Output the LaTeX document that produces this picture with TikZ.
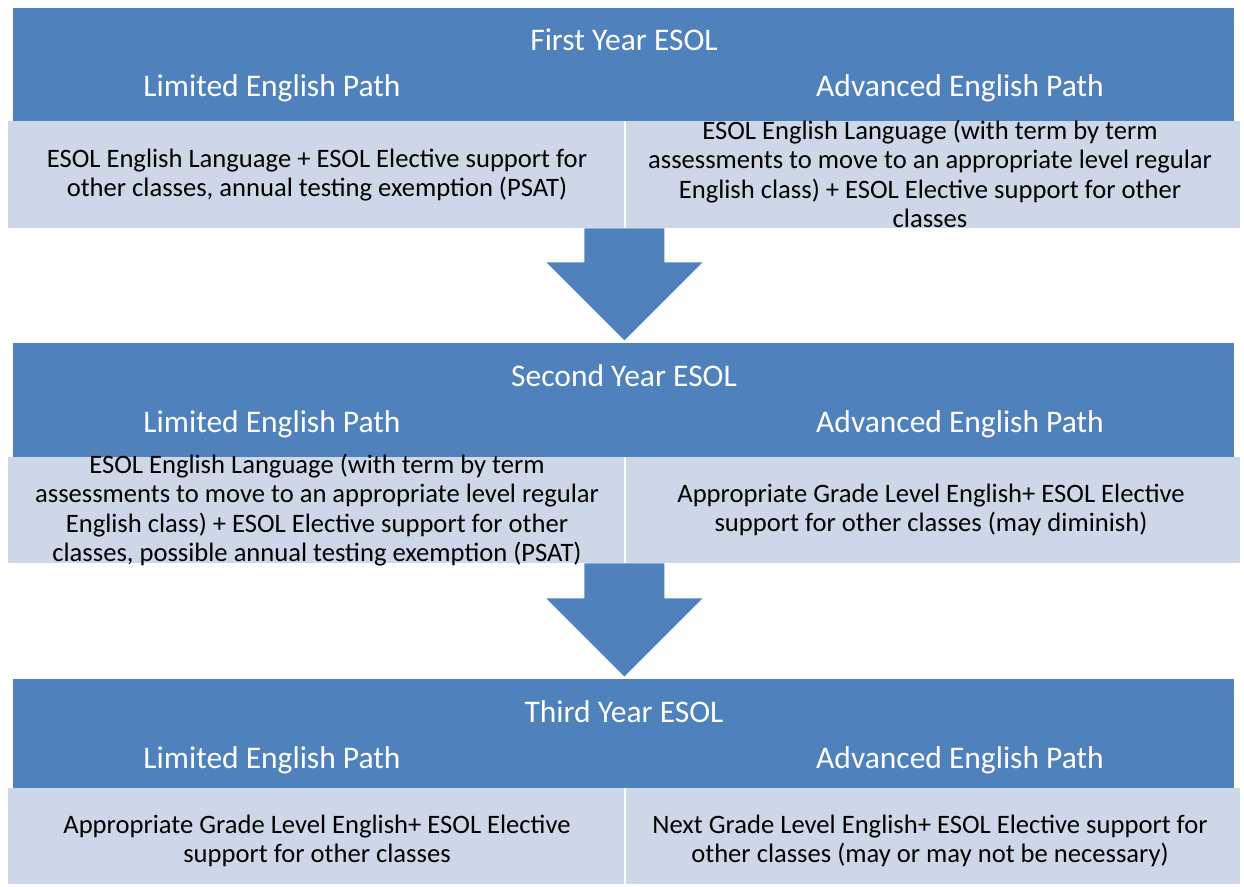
\documentclass[tikz,border=0pt]{standalone}
\usepackage{fontspec}
\setmainfont{Carlito}
\definecolor{hdrblue}{HTML}{4F81BD}
\definecolor{bodyfill}{HTML}{CED7E8}
\tikzset{
  header/.style={fill=hdrblue, minimum width=1221pt, inner sep=0pt, anchor=north west},
  bodybox/.style={fill=bodyfill, inner sep=0pt, anchor=north west},
  hdrtext/.style={text=white, font=\fontsize{31.5}{36}\selectfont},
  bodytext/.style={align=center, font=\fontsize{26.6}{29.4}\selectfont},
  blockarrow/.style={fill=hdrblue}
}
\begin{document}
\begin{tikzpicture}[x=1pt,y=-1pt]
\useasboundingbox (0,0) rectangle (1244,886);
% first year
\node[header, minimum height=113pt] (hdrA) at (13,8) {};
\node[bodybox, minimum width=616pt, minimum height=107pt] (boxAL) at (8,121) {};
\node[bodybox, minimum width=614pt, minimum height=107pt] (boxAR) at (626,121) {};
\node[hdrtext] (titleA) at (624,40) {First Year ESOL};
\node[hdrtext] (limA) at (272,88) {Limited English Path};
\node[hdrtext] (advA) at (960,88) {Advanced English Path};
\node[bodytext] (txtAL) at (317,175) {ESOL English Language + ESOL Elective support for\\other classes, annual testing exemption (PSAT)};
\node[bodytext] (txtAR) at (930,174) {ESOL English Language (with term by term\\assessments to move to an appropriate level regular\\English class) + ESOL Elective support for other\\classes};
% second year
\node[header, minimum height=114pt] (hdrB) at (13,343) {};
\node[bodybox, minimum width=616pt, minimum height=106pt] (boxBL) at (8,457) {};
\node[bodybox, minimum width=614pt, minimum height=106pt] (boxBR) at (626,457) {};
\node[hdrtext] (titleB) at (624,376) {Second Year ESOL};
\node[hdrtext] (limB) at (272,424) {Limited English Path};
\node[hdrtext] (advB) at (960,424) {Advanced English Path};
\node[bodytext] (txtBL) at (317,510) {ESOL English Language (with term by term\\assessments to move to an appropriate level regular\\English class) + ESOL Elective support for other\\classes, possible annual testing exemption (PSAT)};
\node[bodytext] (txtBR) at (931,510) {Appropriate Grade Level English+ ESOL Elective\\support for other classes (may diminish)};
% third year
\node[header, minimum height=109pt] (hdrC) at (13,679) {};
\node[bodybox, minimum width=616pt, minimum height=96pt] (boxCL) at (8,788) {};
\node[bodybox, minimum width=614pt, minimum height=96pt] (boxCR) at (626,788) {};
\node[hdrtext] (titleC) at (624,712) {Third Year ESOL};
\node[hdrtext] (limC) at (272,760) {Limited English Path};
\node[hdrtext] (advC) at (960,760) {Advanced English Path};
\node[bodytext] (txtCL) at (317,841) {Appropriate Grade Level English+ ESOL Elective\\support for other classes};
\node[bodytext] (txtCR) at (930,841) {Next Grade Level English+ ESOL Elective support for\\other classes (may or may not be necessary)};
% arrows between years
\fill[blockarrow] (boxAL.south east) ++(-40,0) -- ++(0,34) -- ++(-38,0) -- ++(78,78) -- ++(78,-78) -- ++(-38,0) -- ++(0,-34) -- cycle;
\fill[blockarrow] (boxBL.south east) ++(-40,0) -- ++(0,35) -- ++(-38,0) -- ++(78,78) -- ++(78,-78) -- ++(-38,0) -- ++(0,-35) -- cycle;
\end{tikzpicture}
\end{document}
